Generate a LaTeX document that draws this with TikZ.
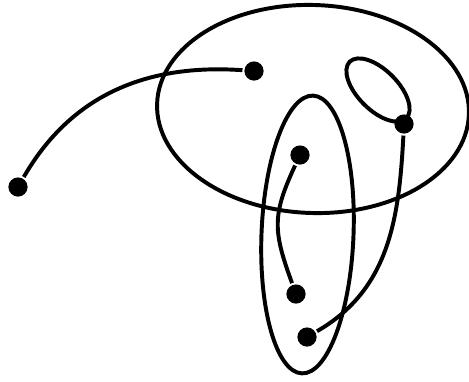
\documentclass[tikz,border=0pt]{standalone}
\usepackage{tikz}
\begin{document}
\begin{tikzpicture}[x=0.025cm,y=0.025cm,line width=2.8pt,
  dot/.style={circle,fill=black,inner sep=0pt,minimum size=0.48cm}]
  \useasboundingbox (0,0) rectangle (469,-382);
  \draw[rotate around={-2:(313,-109)}] (313,-109) ellipse (156 and 104);
  \draw[rotate around={-45:(378,-90)}] (378,-90) ellipse (40 and 20);
  \draw[rotate around={-2.3:(307.5,-234.5)}] (307.5,-234.5) ellipse (46 and 139);
  \node[dot] (top)  at (254,-71)  {};
  \node[dot] (far)  at (18,-187)  {};
  \node[dot] (mid)  at (300,-155) {};
  \node[dot] (ring) at (404,-124) {};
  \node[dot] (low)  at (296,-294) {};
  \node[dot] (foot) at (307,-337) {};
  \draw (far) to[out=60,in=176] (top);
  \draw (mid) to[out=245,in=110,looseness=1.2] (low);
  \draw (ring) to[out=267,in=30] (foot);
\end{tikzpicture}
\end{document}
